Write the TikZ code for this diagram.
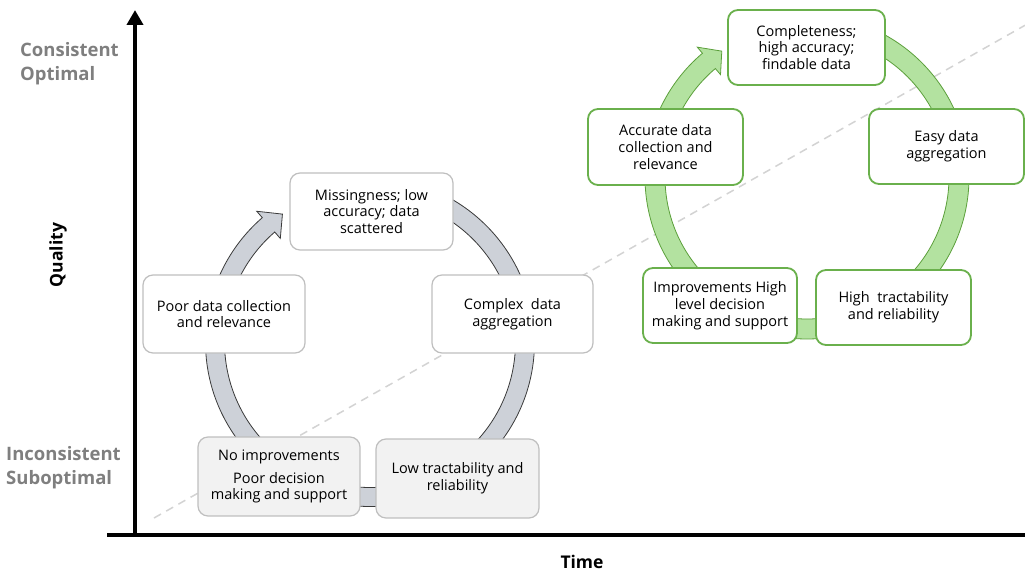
\documentclass[tikz,border=0pt]{standalone}
\usepackage{fontspec}
\setmainfont{Open Sans}
\usetikzlibrary{arrows.meta,calc}
\definecolor{boxgray}{HTML}{BFBFBF}
\definecolor{boxfill}{HTML}{F2F2F2}
\definecolor{ringgray}{HTML}{CDD1D8}
\definecolor{ringedge}{HTML}{3A3A3A}
\definecolor{grnedge}{HTML}{6AB04C}
\definecolor{grnfill}{HTML}{B3E2A0}
\definecolor{grnring}{HTML}{5B9F3A}
\definecolor{labgray}{HTML}{7F7F7F}
\definecolor{dashgray}{HTML}{D3D3D3}
\tikzset{
  txt/.style={font=\fontsize{14.5}{16.8}\selectfont, align=center, inner sep=0pt},
  graybox/.style={txt, draw=boxgray, line width=1.2pt, rounded corners=10pt, fill=white},
  graybox2/.style={graybox, fill=boxfill},
  greenbox/.style={txt, draw=grnedge, line width=1.8pt, rounded corners=10pt, fill=white},
  axislab/.style={font=\fontsize{18.5}{24}\selectfont\bfseries, text=labgray, align=left, anchor=west, inner sep=0pt},
  axistitle/.style={font=\fontsize{17.5}{20}\selectfont\bfseries, inner sep=0pt},
}
\begin{document}
\begin{tikzpicture}[x=1pt,y=1pt]
\useasboundingbox (0,0) rectangle (1025,574);
% dashed trend line
\coordinate (d0) at (154,56);
\coordinate (d1) at (1025,548.7);
\draw[dashgray, line width=1.5pt, dash pattern=on 8pt off 6pt] (d0) -- (d1);
% axes
\coordinate (origin) at (135,37);
\coordinate (ytop) at (135,564);
\coordinate (xl) at (107,39);
\coordinate (xr) at (1025,39);
\draw[line width=4pt] (xl) -- (xr);
\draw[line width=4pt, -{Triangle[width=16pt,length=15pt]}] (origin) -- (ytop);
% gray cycle ring
\coordinate (gc) at (370,232);
\draw[ringedge, line width=0.8pt, fill=ringgray]
  ($(gc)+(90:164.5)$) arc[start angle=90, end angle=-229.1, radius=164.5]
  -- ($(gc)+(130.9:173)$) -- ($(gc)+(124.4:155)$) -- ($(gc)+(130.9:137)$)
  -- ($(gc)+(130.9:145.5)$) arc[start angle=130.9, end angle=450, radius=145.5] -- cycle;
% green cycle ring
\coordinate (gn) at (807,397);
\draw[grnring, line width=0.8pt, fill=grnfill]
  ($(gn)+(90:162)$) arc[start angle=90, end angle=-229.8, radius=162]
  -- ($(gn)+(130.2:170)$) -- ($(gn)+(124.1:152)$) -- ($(gn)+(130.2:134)$)
  -- ($(gn)+(130.2:142)$) arc[start angle=130.2, end angle=450, radius=142] -- cycle;
% gray boxes
\node[graybox, minimum width=163pt, minimum height=77pt] (miss) at (371.5,362.5) {Missingness; low\\accuracy; data\\scattered};
\node[graybox, minimum width=162pt, minimum height=78pt] (poor) at (224,260) {Poor data collection\\and relevance};
\node[graybox, minimum width=161pt, minimum height=78pt] (cplx) at (512.5,260) {Complex\ \ data\\aggregation};
\node[graybox2, minimum width=162pt, minimum height=79pt] (noimp) at (279,97.5) {No improvements\\[6pt]Poor decision\\making and support};
\node[graybox2, minimum width=163pt, minimum height=79pt] (low) at (457.5,95.5) {Low tractability and\\reliability};
% green boxes
\node[greenbox, minimum width=157pt, minimum height=75pt] (compl) at (806.5,526.5) {Completeness;\\high accuracy;\\findable data};
\node[greenbox, minimum width=155pt, minimum height=76pt] (acc) at (665.5,427) {Accurate data\\collection and\\relevance};
\node[greenbox, minimum width=155pt, minimum height=75pt] (easy) at (946.5,427.5) {Easy data\\aggregation};
\node[greenbox, minimum width=154pt, minimum height=75pt] (impr) at (720,268.5) {Improvements High\\level decision\\making and support};
\node[greenbox, minimum width=155pt, minimum height=75pt] (high) at (893.5,266.5) {High\ \ tractability\\and reliability};
% axis labels
\node[axislab] (cons) at (20,510) {Consistent\\Optimal};
\node[axislab] (incons) at (6,106) {Inconsistent\\Suboptimal};
\node[axistitle, rotate=90] (qual) at (58,319) {Quality};
\node[axistitle] (time) at (582,12) {Time};
\end{tikzpicture}
\end{document}
